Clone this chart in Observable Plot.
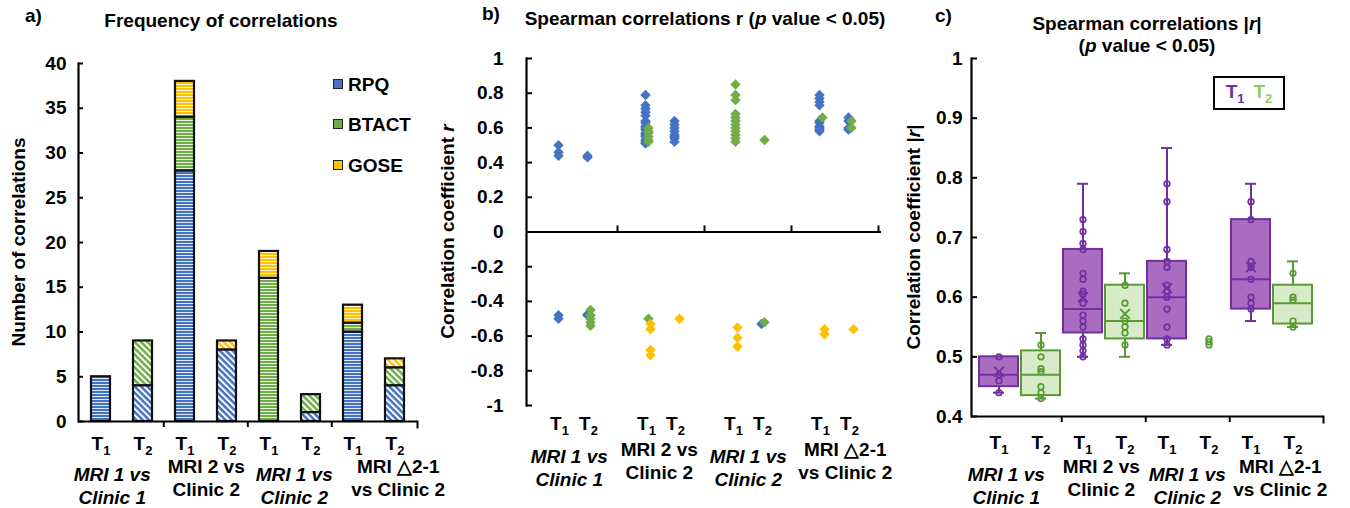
<!DOCTYPE html>
<html><head><meta charset="utf-8">
<script src="https://cdn.jsdelivr.net/npm/d3@7"></script>
<script src="https://cdn.jsdelivr.net/npm/@observablehq/plot@0.6"></script>
<style>
body{margin:0;background:#fff;}
#wrap{position:relative;width:1350px;height:508px;overflow:hidden;background:#fff;}
#wrap div{color:#000;}
</style></head><body><div id="wrap"></div>
<script>
// ---------------- DATA ----------------
const groupNames = ["MRI 1 vs\nClinic 1", "MRI 2 vs\nClinic 2", "MRI 1 vs\nClinic 2", "MRI \u25B32-1\nvs Clinic 2"];
const groupItalic = [true, false, true, false];
const timeLabels = ["T1", "T2"];
const measureNames = ["RPQ", "BTACT", "GOSE"];
const measureColors = ["#4472C4", "#70AD47", "#FFC000"];

// panel a: counts per group/time (G1T1, G1T2, G2T1, G2T2, G3T1, G3T2, G4T1, G4T2)
const rpqCount   = [5, 4, 28, 8, 0, 1, 10, 4];
const btactCount = [0, 5, 6, 0, 16, 2, 1, 2];
const goseCount  = [0, 0, 4, 1, 3, 0, 2, 1];
const yTicksA = [0, 5, 10, 15, 20, 25, 30, 35, 40];

// panel b: Spearman r per group/time
const rpqR = [
  [0.50, 0.46, 0.44, -0.48, -0.50],
  [0.43, 0.44, -0.475, -0.48],
  [0.79, 0.73, 0.71, 0.69, 0.67, 0.64, 0.63, 0.61, 0.60, 0.59, 0.57, 0.56, 0.55, 0.53, 0.52, 0.51],
  [0.64, 0.62, 0.60, 0.58, 0.56, 0.55, 0.54, 0.52],
  [],
  [-0.53],
  [0.79, 0.77, 0.75, 0.73, 0.64, 0.63, 0.61, 0.60, 0.59, 0.58],
  [0.66, 0.64, 0.60, 0.59]
];
const btactR = [
  [],
  [-0.45, -0.48, -0.50, -0.52, -0.54],
  [0.60, 0.58, 0.57, 0.55, 0.53, 0.52, -0.50],
  [],
  [0.85, 0.79, 0.76, 0.68, 0.66, 0.64, 0.62, 0.60, 0.58, 0.56, 0.54, 0.52],
  [0.53, -0.52],
  [0.66],
  [0.64, 0.60]
];
const goseR = [
  [],
  [],
  [-0.53, -0.56, -0.68, -0.71],
  [-0.50],
  [-0.55, -0.61, -0.66],
  [],
  [-0.56, -0.59],
  [-0.56]
];
const yTicksB = [-1, -0.8, -0.6, -0.4, -0.2, 0, 0.2, 0.4, 0.6, 0.8, 1];

// panel c: |r| box statistics and points
const boxMin    = [0.44, 0.43, 0.50, 0.50, 0.52, null, 0.56, 0.55];
const boxQ1     = [0.45, 0.435, 0.54, 0.53, 0.53, null, 0.58, 0.555];
const boxMedian = [0.47, 0.47, 0.58, 0.56, 0.60, null, 0.63, 0.59];
const boxQ3     = [0.50, 0.51, 0.68, 0.62, 0.66, null, 0.73, 0.62];
const boxMax    = [0.50, 0.54, 0.79, 0.64, 0.85, null, 0.79, 0.66];
const boxMean   = [0.475, null, 0.60, 0.572, 0.615, null, 0.65, null];
const absPoints = [
  [0.50, 0.47, 0.46, 0.44],
  [0.52, 0.50, 0.48, 0.475, 0.45, 0.44, 0.43],
  [0.73, 0.71, 0.69, 0.68, 0.64, 0.63, 0.61, 0.605, 0.59, 0.57, 0.56, 0.55, 0.53, 0.52, 0.51, 0.50],
  [0.62, 0.59, 0.56, 0.55, 0.54, 0.52],
  [0.79, 0.76, 0.68, 0.66, 0.65, 0.62, 0.61, 0.60, 0.58, 0.55, 0.53, 0.52],
  [0.53, 0.525, 0.52],
  [0.76, 0.73, 0.66, 0.65, 0.63, 0.60, 0.59, 0.58],
  [0.64, 0.60, 0.595, 0.56, 0.55]
];
const yTicksC = [0.4, 0.5, 0.6, 0.7, 0.8, 0.9, 1];
const timeStroke = ["#7030A0", "#5A9A35"];
const timeFill = ["#A86CC1", "#D7EBC9"];

// ---------------- HELPERS ----------------
const FONT = '"Liberation Sans", Arial, Helvetica, sans-serif';
const wrap = document.getElementById("wrap");
const keys = groupNames.flatMap((g, gi) => timeLabels.map(t => `G${gi}|${t}`));
const tOf = k => k.split("|")[1];
const fmt = d => String(+(+d).toFixed(1));

function place(node, left, top, w, h) {
  const d = document.createElement("div");
  d.style.cssText = `position:absolute;left:${left}px;top:${top}px;width:${w}px;height:${h}px;`;
  d.appendChild(node); wrap.appendChild(d);
}
function txt(html, x, y, {anchor = "start", size = 19} = {}) {
  const d = document.createElement("div");
  d.innerHTML = html;
  d.style.cssText = `position:absolute;left:${x}px;top:${y}px;font:bold ${size}px ${FONT};line-height:1;white-space:nowrap;transform:translate(${anchor === "middle" ? "-50%" : "0"},-50%);`;
  wrap.appendChild(d);
  return d;
}
function subscriptT(svg) {
  d3.select(svg).selectAll("text").each(function () {
    const m = /^T([12])$/.exec(this.textContent);
    if (m && this.children.length === 0) {
      this.textContent = "T";
      d3.select(this).append("tspan").attr("font-size", 13).attr("dy", 5).text(m[1]);
    }
  });
}
function yLabel(chart, x, parts) {
  const [a, b] = chart.scale("y").range;
  const t = d3.select(chart).append("text")
    .attr("transform", `translate(${x},${(a + b) / 2}) rotate(-90)`)
    .attr("text-anchor", "middle").attr("dominant-baseline", "central")
    .attr("font-size", 19).attr("font-weight", "bold").attr("fill", "#000");
  parts.forEach(([s, it]) => t.append("tspan").attr("font-style", it ? "italic" : null).text(s));
}
const baseStyle = {fontFamily: FONT, fontSize: "19px", fontWeight: "bold", color: "#000", background: "transparent", overflow: "visible"};
const groupRows = groupNames.map((name, gi) => ({name, italic: groupItalic[gi], key: `G${gi}|T1`}));

// group category labels: one text mark per group (italic groups sit a little lower)
function groupLabelMarks(halfStep, dyUpright, dyItalic, shifts) {
  return groupRows.map((d, gi) => Plot.text([d], {
    x: "key", text: "name", dx: halfStep + shifts[gi], frameAnchor: "bottom", lineAnchor: "top",
    dy: d.italic ? dyItalic : dyUpright, lineHeight: 1.22, fontSize: 19, fontWeight: "bold",
    fontStyle: d.italic ? "italic" : "normal"
  }));
}

// ---------------- PANEL A ----------------
{
  const W = 440, H = 468, mL = 78, mR = 23, mT = 23, mB = 87;
  const step = (W - mL - mR) / keys.length;
  const frameH = H - mT - mB;
  const rows = [];
  keys.forEach((k, i) => {
    [rpqCount, btactCount, goseCount].forEach((arr, mi) => {
      if (arr[i] > 0) rows.push({key: k, time: tOf(k), measure: measureNames[mi], count: arr[i]});
    });
  });
  const chart = Plot.plot({
    width: W, height: H, marginLeft: mL, marginRight: mR, marginTop: mT, marginBottom: mB,
    style: baseStyle,
    x: {domain: keys, paddingInner: 0.55, paddingOuter: 0.275},
    y: {domain: [0, 40]},
    color: {type: "identity"},
    marks: [
      Plot.barY(rows, {x: "key", y: "count", fill: d => `url(#pat-${d.time}-${d.measure})`, stroke: "#111", strokeWidth: 2.2}),
      Plot.ruleY([0], {stroke: "#000", strokeWidth: 2.2}),
      Plot.frame({anchor: "left", stroke: "#000", strokeWidth: 2.2}),
      Plot.ruleX(groupRows.slice(1), {x: "key", dx: -step / 2, insetTop: frameH, insetBottom: -6, stroke: "#000", strokeWidth: 2}),
      Plot.frame({anchor: "right", insetTop: frameH, insetBottom: -6, stroke: "#000", strokeWidth: 2}),
      Plot.axisY(yTicksA, {tickSize: -5, tickPadding: 17, tickFormat: fmt, label: null, strokeWidth: 2}),
      Plot.axisX({tickSize: 0, tickPadding: 15, tickFormat: tOf, label: null}),
      ...groupLabelMarks(step / 2, 35, 43, [-10, 0, 4, 24])
    ]
  });
  const defs = d3.select(chart).insert("defs", ":first-child");
  measureNames.forEach((m, i) => {
    const c = measureColors[i];
    const h = defs.append("pattern").attr("id", `pat-T1-${m}`).attr("patternUnits", "userSpaceOnUse").attr("width", 6).attr("height", 3);
    h.append("rect").attr("width", 6).attr("height", 3).attr("fill", c);
    h.append("rect").attr("y", 2).attr("width", 6).attr("height", 1).attr("fill", "#fff").attr("opacity", 0.85);
    const g = defs.append("pattern").attr("id", `pat-T2-${m}`).attr("patternUnits", "userSpaceOnUse").attr("width", 4.5).attr("height", 4.5).attr("patternTransform", "rotate(-45)");
    g.append("rect").attr("width", 4.5).attr("height", 4.5).attr("fill", c);
    g.append("rect").attr("width", 2).attr("height", 4.5).attr("fill", "#fff");
  });
  subscriptT(chart);
  yLabel(chart, 18, [["Number of correlations", false]]);
  place(chart, 0, 40, W, H);
  // legend
  measureNames.forEach((m, i) => {
    const y = [84, 124, 165][i];
    const sq = document.createElement("div");
    sq.style.cssText = `position:absolute;left:333px;top:${y - 5}px;width:8px;height:8px;background:${measureColors[i]};border:1.5px solid #222;`;
    wrap.appendChild(sq);
    txt(m, 348, y);
  });
}

// ---------------- PANEL B ----------------
{
  const W = 480, H = 468, mL = 106, mR = 19, mT = 18, mB = 103;
  const keysB = [];
  groupNames.forEach((g, gi) => { keysB.push(`B${gi}`); timeLabels.forEach(t => keysB.push(`G${gi}|${t}`)); });
  keysB.push(`B${groupNames.length}`);
  const stepB = (W - mL - mR) / (keysB.length - 1);
  const toRows = arr => arr.flatMap((vals, i) => vals.map(v => ({key: keys[i], v})));
  const chart = Plot.plot({
    width: W, height: H, marginLeft: mL, marginRight: mR, marginTop: mT, marginBottom: mB,
    style: baseStyle,
    x: {type: "point", domain: keysB, padding: 0},
    y: {domain: [-1, 1]},
    marks: [
      Plot.ruleY([0], {stroke: "#000", strokeWidth: 2.2}),
      Plot.frame({anchor: "left", stroke: "#000", strokeWidth: 2.2}),
      Plot.ruleX(keysB.filter(k => k[0] === "B").slice(1), {x: d => d, y1: 0, y2: 0.035, stroke: "#000", strokeWidth: 2}),
      Plot.axisY(yTicksB, {tickSize: -6, tickPadding: 29, tickFormat: fmt, label: null, strokeWidth: 2}),
      Plot.axisX(keys, {tickSize: 0, tickPadding: 11, tickFormat: tOf, label: null}),
      Plot.dot(toRows(rpqR), {x: "key", y: "v", symbol: "diamond2", r: 4.7, fill: measureColors[0], dx: -1}),
      Plot.dot(toRows(btactR), {x: "key", y: "v", symbol: "diamond2", r: 4.7, fill: measureColors[1], dx: 2}),
      Plot.dot(toRows(goseR), {x: "key", y: "v", symbol: "diamond2", r: 4.7, fill: measureColors[2], dx: 4}),
      ...groupLabelMarks(stepB / 2, 34, 41, [-5, -2, 0, 10])
    ]
  });
  subscriptT(chart);
  yLabel(chart, 27, [["Correlation coefficient ", false], ["r", true]]);
  place(chart, 420, 40, W, H);
}

// ---------------- PANEL C ----------------
{
  const W = 470, H = 468, mL = 91, mR = 27, mT = 18, mB = 92;
  const frameH = H - mT - mB;
  const rx = [96, 436];
  const step = (rx[1] - rx[0]) / keys.length;
  const stats = keys.map((k, i) => ({key: k, t: i % 2, min: boxMin[i], q1: boxQ1[i], median: boxMedian[i], q3: boxQ3[i], max: boxMax[i], mean: boxMean[i]}));
  const boxes = stats.filter(d => d.q1 != null);
  const means = stats.filter(d => d.mean != null);
  const pts = absPoints.flatMap((vals, i) => vals.map(v => ({key: keys[i], t: i % 2, v})));
  const stroke = d => timeStroke[d.t];
  const chart = Plot.plot({
    width: W, height: H, marginLeft: mL, marginRight: mR, marginTop: mT, marginBottom: mB,
    style: baseStyle,
    x: {domain: keys, range: rx, paddingInner: 0.07, paddingOuter: 0.035},
    y: {domain: [0.4, 1]},
    color: {type: "identity"},
    marks: [
      Plot.ruleX(boxes, {x: "key", y1: "min", y2: "q1", stroke, strokeWidth: 2}),
      Plot.ruleX(boxes, {x: "key", y1: "q3", y2: "max", stroke, strokeWidth: 2}),
      Plot.tickY(boxes, {x: "key", y: "min", stroke, strokeWidth: 2, inset: 14}),
      Plot.tickY(boxes, {x: "key", y: "max", stroke, strokeWidth: 2, inset: 14}),
      Plot.barY(boxes, {x: "key", y1: "q1", y2: "q3", fill: d => timeFill[d.t], stroke, strokeWidth: 2}),
      Plot.tickY(boxes, {x: "key", y: "median", stroke, strokeWidth: 2}),
      Plot.dot(pts, {x: "key", y: "v", r: 2.8, stroke, strokeWidth: 1.7, fill: "none"}),
      Plot.dot(means, {x: "key", y: "mean", symbol: "times", r: 4.5, stroke, strokeWidth: 1.8}),
      Plot.ruleY([0.4], {stroke: "#000", strokeWidth: 2.2}),
      Plot.frame({anchor: "left", stroke: "#000", strokeWidth: 2.2}),
      Plot.ruleX(groupRows.slice(1), {x: "key", dx: -step / 2, insetTop: frameH, insetBottom: -6, stroke: "#000", strokeWidth: 2}),
      Plot.frame({anchor: "right", insetTop: frameH, insetBottom: -6, stroke: "#000", strokeWidth: 2}),
      Plot.axisY(yTicksC, {tickSize: -6, tickPadding: 15, tickFormat: fmt, label: null, strokeWidth: 2}),
      Plot.axisX({tickSize: 0, tickPadding: 19, tickFormat: tOf, label: null}),
      ...groupLabelMarks(step / 2, 40, 48, [-14, -3, -1, 8])
    ]
  });
  subscriptT(chart);
  yLabel(chart, 33, [["Correlation coefficient |", false], ["r", true], ["|", false]]);
  place(chart, 880, 40, W, H);
  const lg = document.createElement("div");
  lg.style.cssText = `position:absolute;left:1213px;top:76px;width:68px;height:30px;border:2px solid #000;font:bold 19px ${FONT};display:flex;align-items:center;justify-content:center;gap:9px;`;
  lg.innerHTML = `<span style="color:${timeStroke[0]}">T<sub style="font-size:13px">1</sub></span><span style="color:#92D050">T<sub style="font-size:13px">2</sub></span>`;
  wrap.appendChild(lg);
}

// ---------------- TITLES ----------------
txt("a)", 25, 15);
txt("Frequency of correlations", 221, 20, {anchor: "middle"});
txt("b)", 482, 13);
txt("Spearman correlations r (<i>p</i> value &lt; 0.05)", 705, 18, {anchor: "middle"});
txt("c)", 935, 15);
txt("Spearman correlations |<i>r</i>|", 1147, 23, {anchor: "middle"});
txt("(<i>p</i> value &lt; 0.05)", 1147, 45, {anchor: "middle"});
</script></body></html>
